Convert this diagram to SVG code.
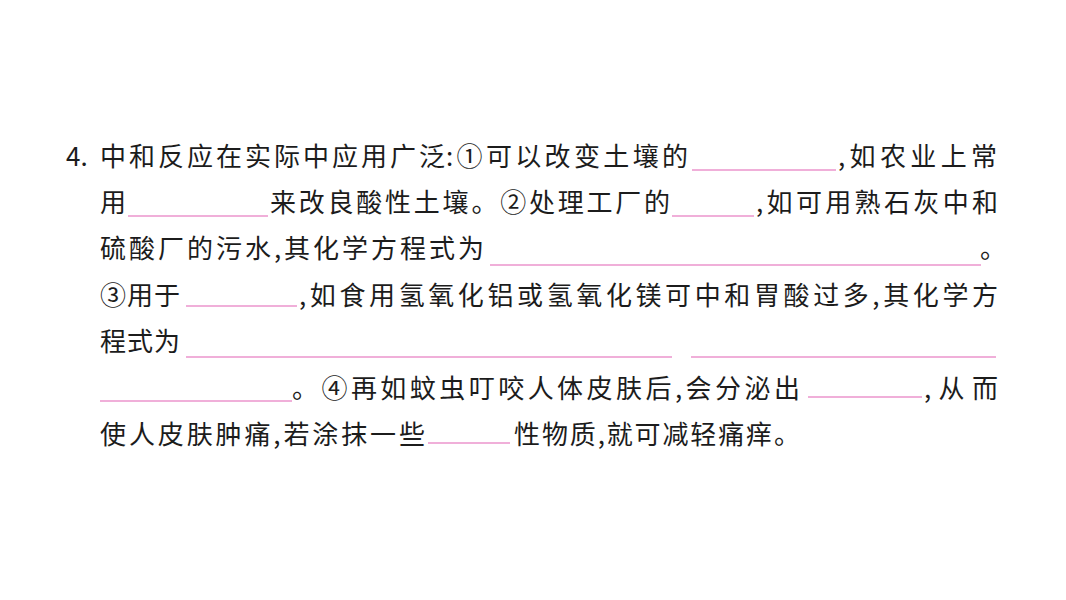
<svg xmlns="http://www.w3.org/2000/svg" width="1066" height="600" viewBox="0 0 1066 600">
<style>
.t{font-family:"Noto Sans CJK SC","Noto Sans",sans-serif;font-size:26px;fill:#1c1c1c;}
.b{stroke:#eb94cc;stroke-width:1.3;fill:none;}
</style>
<rect width="1066" height="600" fill="#ffffff"/>
<g id="line1">
<text class="t" x="66" y="166">4.</text>
<text class="t" x="100" y="166" textLength="345" lengthAdjust="spacing">中和反应在实际中应用广泛</text>
<text class="t" x="446" y="166" textLength="242" lengthAdjust="spacing">:①可以改变土壤的</text>
<line class="b" x1="692" y1="170" x2="836" y2="170"/>
<text class="t" x="838" y="166" textLength="159" lengthAdjust="spacing">,如农业上常</text>
</g>
<g id="line2">
<text class="t" x="100" y="212">用</text>
<line class="b" x1="128" y1="216" x2="268" y2="216"/>
<text class="t" x="270" y="212" textLength="400" lengthAdjust="spacing">来改良酸性土壤。②处理工厂的</text>
<line class="b" x1="672" y1="216" x2="754" y2="216"/>
<text class="t" x="756" y="212" textLength="242" lengthAdjust="spacing">,如可用熟石灰中和</text>
</g>
<g id="line3">
<text class="t" x="100" y="258" textLength="384" lengthAdjust="spacing">硫酸厂的污水,其化学方程式为</text>
<line class="b" x1="490" y1="265" x2="981" y2="265"/>
<text class="t" x="980" y="258">。</text>
</g>
<g id="line4">
<text class="t" x="100" y="305" textLength="80" lengthAdjust="spacing">③用于</text>
<line class="b" x1="186" y1="306" x2="297" y2="306"/>
<text class="t" x="299" y="305" textLength="699" lengthAdjust="spacing">,如食用氢氧化铝或氢氧化镁可中和胃酸过多,其化学方</text>
</g>
<g id="line5">
<text class="t" x="100" y="351" textLength="80" lengthAdjust="spacing">程式为</text>
<line class="b" x1="186" y1="357" x2="672" y2="357"/>
<line class="b" x1="691" y1="357" x2="996" y2="357"/>
</g>
<g id="line6">
<line class="b" x1="100" y1="401" x2="292" y2="401"/>
<text class="t" x="292" y="398" textLength="508" lengthAdjust="spacing">。④再如蚊虫叮咬人体皮肤后,会分泌出</text>
<line class="b" x1="808" y1="397" x2="922" y2="397"/>
<text class="t" x="924" y="398" textLength="74" lengthAdjust="spacing">,从而</text>
</g>
<g id="line7">
<text class="t" x="100" y="444" textLength="325" lengthAdjust="spacing">使人皮肤肿痛,若涂抹一些</text>
<line class="b" x1="428" y1="443" x2="510" y2="443"/>
<text class="t" x="514" y="444" textLength="286" lengthAdjust="spacing">性物质,就可减轻痛痒。</text>
</g>
</svg>
